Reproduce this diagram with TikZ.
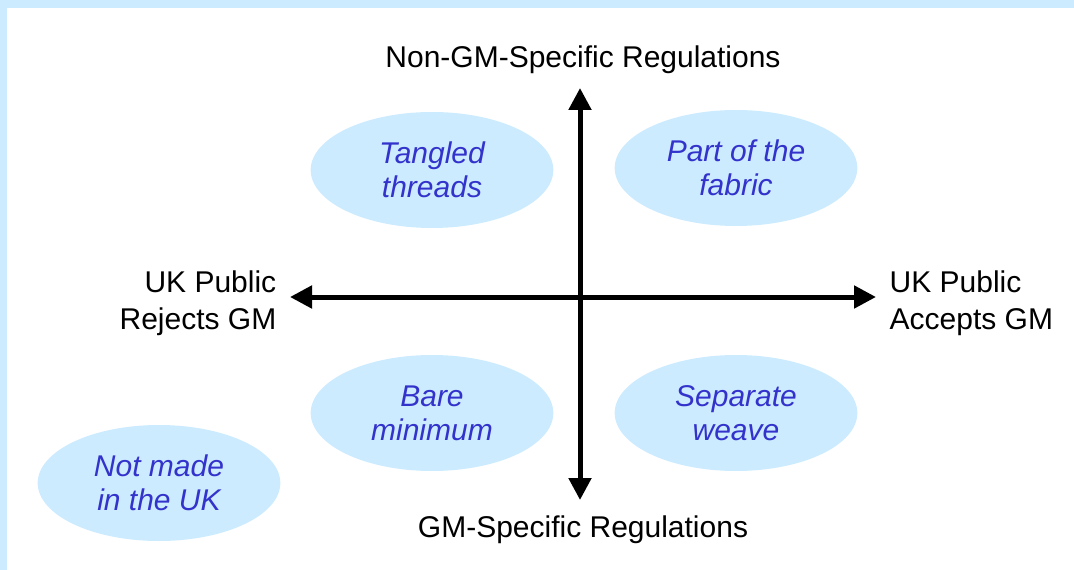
\documentclass[tikz,border=0pt]{standalone}
\usepackage{fontspec}
\setmainfont{Liberation Sans}
\usetikzlibrary{arrows.meta, shapes.geometric}
\definecolor{paleblue}{HTML}{CCEBFF}
\definecolor{inkblue}{HTML}{3333CC}
\begin{document}
\begin{tikzpicture}[
    x=0.75pt, y=-0.75pt,
    scenario/.style={ellipse, fill=paleblue, minimum width=182pt, minimum height=87pt, inner sep=0pt,
                     font=\fontsize{22.5}{25.5}\selectfont\itshape, text=inkblue, align=center},
    axislabel/.style={font=\fontsize{22.5}{27.75}\selectfont},
    axisline/.style={line width=3.75pt, {Triangle[width=16.5pt,length=16.5pt]}-{Triangle[width=16.5pt,length=16.5pt]}},
]
\useasboundingbox (0,0) rectangle (1074,570);

% Frame
\fill[paleblue] (0,0) rectangle (1074,8.5);
\fill[paleblue] (0,0) rectangle (7,570);

% Scenarios
\node[scenario] (tangled) at (432,170) {Tangled\\threads};
\node[scenario] (fabric) at (736,168) {Part of the\\fabric};
\node[scenario] (bare) at (432,413) {Bare\\minimum};
\node[scenario] (weave) at (736,413) {Separate\\weave};
\node[scenario] (notuk) at (159,483) {Not made\\in the UK};

% Axes
\coordinate (north) at (580,88);
\coordinate (south) at (580,500);
\coordinate (west) at (290,297);
\coordinate (east) at (876,297);
\draw[axisline] (south) -- (north);
\draw[axisline] (west) -- (east);

% Axis labels
\node[axislabel] (nongm) at (583,60) {Non-GM-Specific Regulations};
\node[axislabel] (gm) at (583,530) {GM-Specific Regulations};
\node[axislabel, anchor=east, align=right] (rejects) at (281,303) {UK Public\\Rejects GM};
\node[axislabel, anchor=west, align=left] (accepts) at (885,303) {UK Public\\Accepts GM};

\end{tikzpicture}
\end{document}
